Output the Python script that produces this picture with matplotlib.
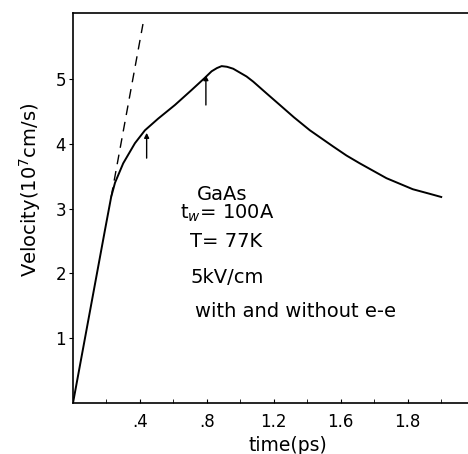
import numpy as np
import matplotlib
matplotlib.use("Agg")
import matplotlib.pyplot as plt

# velocity curve (time in ps, velocity in 1e7 cm/s)
t_pts = [0.0, 0.191, 0.228, 0.251, 0.300, 0.370, 0.430, 0.509, 0.609, 0.708,
         0.788, 0.828, 0.860, 0.888, 0.920, 0.957, 1.037, 1.077, 1.156, 1.236,
         1.320, 1.415, 1.554, 1.634, 1.713, 1.873, 2.03, 2.13, 2.20]
v_pts = [0.0, 2.67, 3.18, 3.40, 3.70, 4.01, 4.21, 4.39, 4.60, 4.83,
         5.02, 5.12, 5.17, 5.20, 5.19, 5.16, 5.04, 4.96, 4.78, 4.60,
         4.41, 4.21, 3.96, 3.82, 3.70, 3.47, 3.30, 3.23, 3.18]

# dashed extension of the initial slope
dash_t = [0.228, 0.418]
dash_v = [3.18, 5.85]

# arrows (time, start v, end v)
arrow_t = [0.44, 0.794]
arrow_v0 = [3.78, 4.60]
arrow_v1 = [4.17, 5.06]

xticks = [0.4, 0.8, 1.2, 1.6, 2.0]
xlabels = [".4", ".8", "1.2", "1.6", "1.8"]
yticks = [1, 2, 3, 4, 5]
ylabels = ["1", "2", "3", "4", "5"]

plt.rcParams['font.family'] = ['DejaVu Sans']

fig = plt.figure(figsize=(4.68, 4.54), dpi=100)
ax = fig.add_axes([73 / 468, 51 / 454, 395 / 468, 390 / 454])

ax.plot(t_pts, v_pts, color='black', lw=1.4, solid_joinstyle='round')
ax.plot(dash_t, dash_v, color='black', lw=1.0, dashes=(7, 5))
for t, a, b in zip(arrow_t, arrow_v0, arrow_v1):
    ax.annotate('', xy=(t, b), xytext=(t, a),
                arrowprops=dict(arrowstyle='-|>', color='black', lw=1.0,
                                mutation_scale=7, shrinkA=0, shrinkB=0))

ax.set_xlim(0, 2.36)
ax.set_ylim(0, 6.02)
ax.spines['right'].set_visible(False)
for s in ['left', 'bottom', 'top']:
    ax.spines[s].set_linewidth(1.2)

ax.set_xticks(xticks)
ax.set_xticklabels(xlabels, fontsize=12)
ax.set_xticks(np.arange(0.2, 2.3, 0.2), minor=True)
ax.tick_params(axis='x', which='both', direction='in', length=3, pad=7)
ax.set_yticks(yticks)
ax.set_yticklabels(ylabels, fontsize=12)
ax.tick_params(axis='y', direction='out', length=3, pad=2)

ax.set_xlabel('time(ps)', fontsize=13.5)
ax.xaxis.set_label_coords(0.544, -0.085)
ax.set_ylabel('Velocity(10$^7$cm/s)', fontsize=14)
ax.yaxis.set_label_coords(-0.076, 0.546)

ax.text(0.740, 3.13, 'GaAs', fontsize=14)
ax.text(0.639, 2.85, 't$_w$= 100A', fontsize=14)
ax.text(0.700, 2.41, 'T= 77K', fontsize=14)
ax.text(0.700, 1.85, '5kV/cm', fontsize=14)
ax.text(0.728, 1.33, 'with and without e-e', fontsize=14)

fig.savefig('out.png', dpi=100)
